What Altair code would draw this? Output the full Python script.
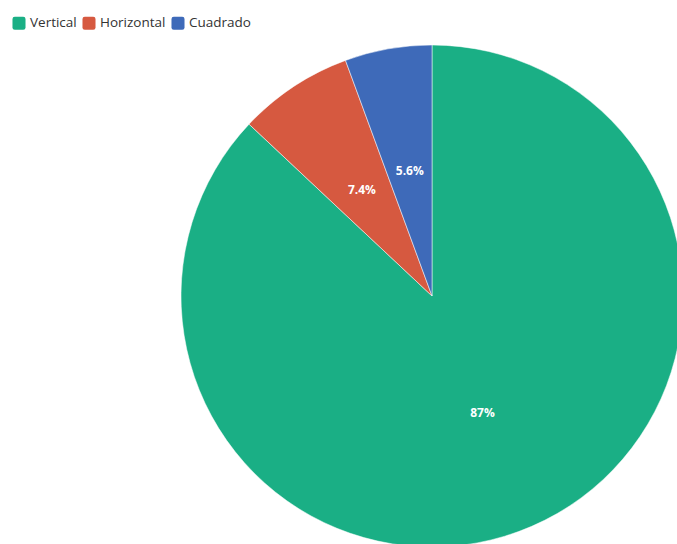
import altair as alt
import pandas as pd

categories = ["Vertical", "Horizontal", "Cuadrado"]
values = [87.0, 7.4, 5.6]
labels = ["87%", "7.4%", "5.6%"]
colors = ["#1aaf85", "#d65940", "#3e6ab9"]

df = pd.DataFrame({"cat": categories, "value": values, "label": labels, "order": [0, 1, 2]})

base = alt.Chart(df).encode(
    theta=alt.Theta("value:Q", stack=True),
    order=alt.Order("order:Q", sort="ascending"),
    x=alt.value(432),
    y=alt.value(296),
)

rounded = "M-0.65,-1H0.65Q1,-1 1,-0.65V0.65Q1,1 0.65,1H-0.65Q-1,1 -1,0.65V-0.65Q-1,-1 -0.65,-1Z"

pie = base.mark_arc(outerRadius=251, stroke="white", strokeWidth=0.5).encode(
    color=alt.Color(
        "cat:N",
        scale=alt.Scale(domain=categories, range=colors),
        sort=categories,
        legend=alt.Legend(
            title=None,
            orient="none",
            legendX=12,
            legendY=16,
            direction="horizontal",
            symbolType=rounded,
            symbolSize=170,
            symbolStrokeWidth=0,
            labelFontSize=13.5,
            labelFont="Open Sans",
            labelColor="#333333",
            columnPadding=5,
            symbolOffset=0,
            labelOffset=4,
        ),
    )
)

text = base.mark_text(radius=127, fontWeight="bold", fontSize=12, font="Open Sans", color="white").encode(
    text="label:N"
)

chart = (
    (pie + text)
    .properties(width=677, height=544, padding=0, autosize=alt.AutoSizeParams(type="none"))
    .configure_view(stroke=None)
)

chart.save("out.html", embed_options={"renderer": "svg", "actions": False})
